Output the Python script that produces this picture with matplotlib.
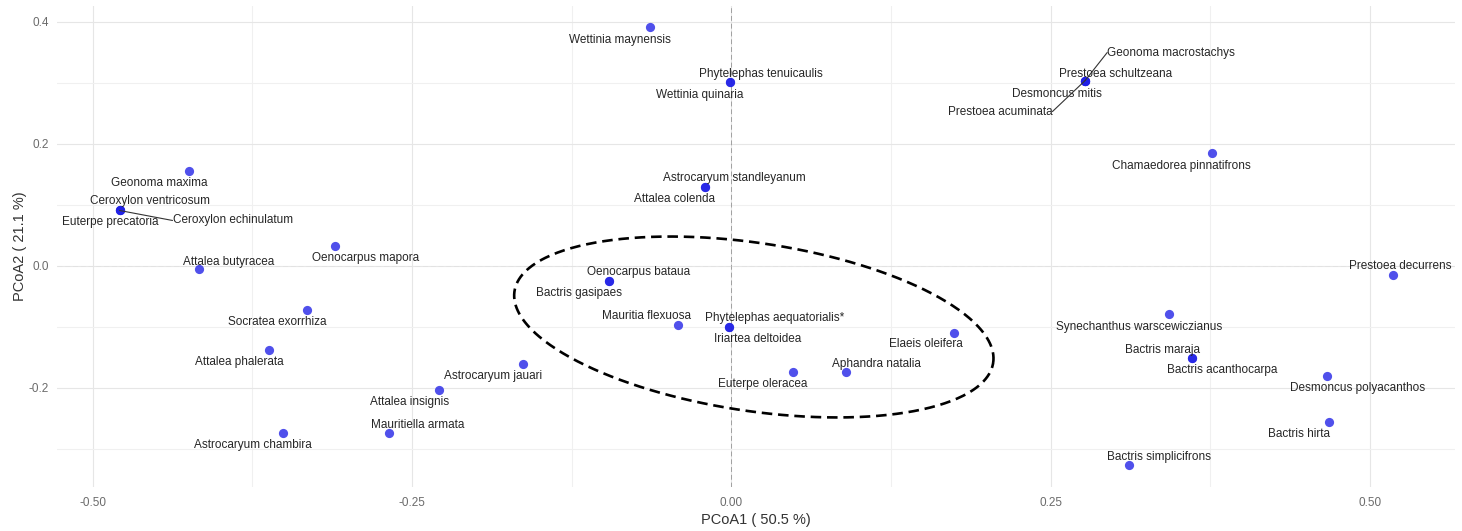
import numpy as np
import matplotlib
matplotlib.use("Agg")
import matplotlib.pyplot as plt

plt.rcParams['font.family'] = ['Liberation Sans', 'DejaVu Sans']
plt.rcParams['axes.unicode_minus'] = False

# PCoA scores
species = [
    "Wettinia maynensis", "Phytelephas tenuicaulis", "Wettinia quinaria",
    "Geonoma macrostachys", "Prestoea schultzeana", "Desmoncus mitis",
    "Prestoea acuminata", "Chamaedorea pinnatifrons", "Geonoma maxima",
    "Ceroxylon ventricosum", "Euterpe precatoria", "Ceroxylon echinulatum",
    "Astrocaryum standleyanum", "Attalea colenda", "Oenocarpus mapora",
    "Attalea butyracea", "Oenocarpus bataua", "Bactris gasipaes",
    "Prestoea decurrens", "Socratea exorrhiza", "Mauritia flexuosa",
    "Phytelephas aequatorialis*", "Iriartea deltoidea", "Elaeis oleifera",
    "Synechanthus warscewiczianus", "Attalea phalerata", "Bactris maraja",
    "Bactris acanthocarpa", "Astrocaryum jauari", "Euterpe oleracea",
    "Aphandra natalia", "Desmoncus polyacanthos", "Attalea insignis",
    "Bactris hirta", "Astrocaryum chambira", "Mauritiella armata",
    "Bactris simplicifrons",
]
pcoa1 = [
    -0.064, -0.001, -0.001,
    0.277, 0.277, 0.277,
    0.277, 0.376, -0.425,
    -0.479, -0.479, -0.479,
    -0.021, -0.021, -0.310,
    -0.417, -0.096, -0.096,
    0.518, -0.332, -0.042,
    -0.002, -0.002, 0.174,
    0.343, -0.362, 0.361,
    0.361, -0.163, 0.048,
    0.090, 0.466, -0.229,
    0.468, -0.351, -0.268,
    0.311,
]
pcoa2 = [
    0.392, 0.302, 0.302,
    0.304, 0.304, 0.304,
    0.304, 0.186, 0.156,
    0.091, 0.091, 0.091,
    0.130, 0.130, 0.033,
    -0.005, -0.024, -0.024,
    -0.015, -0.072, -0.097,
    -0.100, -0.100, -0.110,
    -0.078, -0.138, -0.151,
    -0.151, -0.161, -0.173,
    -0.173, -0.181, -0.204,
    -0.256, -0.273, -0.273,
    -0.326,
]
var1 = 50.5
var2 = 21.1

# label offsets (pixels, x right / y up), as placed by the repel in the original
label_dx = [-30, 31, -30, 86, 30, -28, -85, -30, -29, 30, -9, 113, 30, -30, 30,
            30, 30, -30, 7, -30, -31, 46, 29, -28, -30, -30, -30, 30, -30, -30,
            30, 31, -29, -30, -30, 29, 30]
label_dy = [-13, 8, -13, 28, 7, -13, -31, -13, -12, 9, -12, -10, 9, -12, -12,
            7, 9, -12, 9, -12, 9, 9, -12, -11, -13, -12, 8, -12, -12, -12,
            8, -12, -12, -12, -12, 8, 8]
with_segment = {"Geonoma macrostachys": (0, 0.5), "Prestoea acuminata": (1, 0.5),
                "Ceroxylon echinulatum": (0, 0.5)}

W, H = 1462, 531
fig = plt.figure(figsize=(W / 100, H / 100), dpi=100)
ax = fig.add_axes([57 / W, 44 / H, 1398 / W, 481 / H])

xlim = (-0.528, 0.5666)
ylim = (-0.3623, 0.4262)
ax.set_xlim(xlim)
ax.set_ylim(ylim)

# grid, theme_minimal style
ax.set_xticks([-0.5, -0.25, 0, 0.25, 0.5])
ax.set_xticklabels(["-0.50", "-0.25", "0.00", "0.25", "0.50"])
ax.set_yticks([-0.2, 0, 0.2, 0.4])
ax.set_yticklabels(["-0.2", "0.0", "0.2", "0.4"])
ax.set_xticks([-0.375, -0.125, 0.125, 0.375], minor=True)
ax.set_yticks([-0.3, -0.1, 0.1, 0.3], minor=True)
ax.grid(True, which='major', color='#e6e6e6', linewidth=0.8)
ax.grid(True, which='minor', color='#f0f0f0', linewidth=0.8)
ax.set_axisbelow(True)
for s in ax.spines.values():
    s.set_visible(False)
ax.tick_params(which='both', length=0)
ax.tick_params(axis='x', labelsize=8.5, labelcolor='#6b6b6b', pad=7)
ax.tick_params(axis='y', labelsize=8.5, labelcolor='#6b6b6b', pad=6)

ax.axvline(0, color='#a0a0a0', linewidth=0.7, linestyle=(0, (5, 3)), zorder=1)
ax.axhline(0, color='#e2e2e2', linewidth=0.7, linestyle=(0, (5, 3)), zorder=1)

ax.scatter(pcoa1, pcoa2, s=44, color='#1f1fe6', alpha=0.78, linewidths=0, zorder=3)

for name, x, y, dx, dy in zip(species, pcoa1, pcoa2, label_dx, label_dy):
    kw = {}
    if name in with_segment:
        kw['arrowprops'] = dict(arrowstyle='-', color='#333333', lw=0.8,
                                shrinkA=0, shrinkB=0, relpos=with_segment[name],
                                patchA=None)
    ax.annotate(name, (x, y), xytext=(dx, dy), textcoords='offset pixels',
                ha='center', va='center', fontsize=8.5, color='#262626',
                zorder=4, **kw)

# dashed ellipse around the central group (drawn in screen proportions)
cx, cy = 0.0176, -0.100
a_px, b_px, theta = 242, 84, np.deg2rad(-8.5)
sx = 1398 / (xlim[1] - xlim[0])
sy = 481 / (ylim[1] - ylim[0])
t = np.linspace(0, 2 * np.pi, 400)
ex = a_px * np.cos(t) * np.cos(theta) - b_px * np.sin(t) * np.sin(theta)
ey = a_px * np.cos(t) * np.sin(theta) + b_px * np.sin(t) * np.cos(theta)
ax.plot(cx + ex / sx, cy + ey / sy, color='black', linewidth=1.9,
        linestyle=(0, (4, 2.2)), zorder=2)

ax.set_xlabel("PCoA1 ( %.1f %%)" % var1, fontsize=10.5, color='#333333', labelpad=3)
ax.set_ylabel("PCoA2 ( %.1f %%)" % var2, fontsize=10.5, color='#333333', labelpad=1)

fig.savefig("out.png", dpi=100)
